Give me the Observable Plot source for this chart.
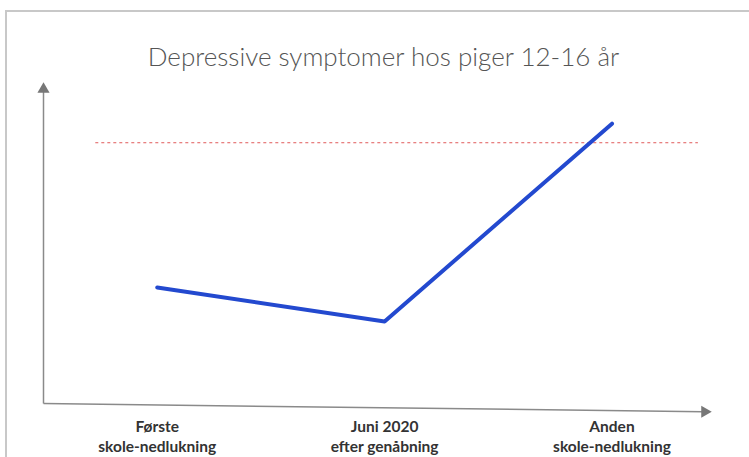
<!DOCTYPE html>
<html>
<head>
<meta charset="utf-8">
<script src="https://cdn.jsdelivr.net/npm/d3@7"></script>
<script src="https://cdn.jsdelivr.net/npm/@observablehq/plot@0.6"></script>
<style>
  html, body { margin: 0; padding: 0; background: #fff; }
  #wrap { position: relative; width: 749px; height: 457px; overflow: hidden; }
  #border { position: absolute; left: 5px; top: 10px; right: -10px; bottom: -10px;
            border-top: 2px solid #c8c8c8; border-left: 2px solid #c8c8c8; }
  #chart { position: absolute; left: 0; top: 0; }
</style>
</head>
<body>
<div id="wrap"><div id="border"></div><div id="chart"></div></div>
<script>
// Data
const title = "Depressive symptomer hos piger 12-16 år";
const categories = [
  "Første\nskole-nedlukning",
  "Juni 2020\nefter genåbning",
  "Anden\nskole-nedlukning"
];
const values = [36.5, 25.8, 88];
const referenceLevel = 82;

const data = categories.map((c, i) => ({i, label: c, value: values[i]}));

const xDomain = [-0.5, 2.42];
const yDomain = [0, 100];

const plot = Plot.plot({
  width: 749,
  height: 457,
  marginLeft: 43,
  marginRight: 42,
  marginTop: 85,
  marginBottom: 54,
  style: {fontFamily: "Lato, sans-serif", fontSize: "15px", background: "transparent"},
  x: {domain: xDomain, axis: null},
  y: {domain: yDomain, axis: null},
  marks: [
    // title
    Plot.text([title], {frameAnchor: "top", dy: -38, dx: 8, fontSize: 26, fill: "#555", fontWeight: 300}),
    // x axis labels
    Plot.axisX({ticks: d3.range(categories.length), tickFormat: i => categories[i], tickSize: 0, tickPadding: 14,
      fontSize: 15.5, fontWeight: "bold", fill: "#333", lineHeight: 1.3, label: null}),
    // y axis line with arrow
    Plot.link([0], {x1: () => xDomain[0], x2: () => xDomain[0], y1: () => yDomain[0], y2: () => yDomain[1] - 2, stroke: "#8a8a8a", strokeWidth: 1.5}),
    Plot.dot([0], {x: () => xDomain[0], y: () => yDomain[1] - 1.2, symbol: "triangle", r: 4.5, fill: "#777", stroke: "none"}),
    // x axis line with arrow (slightly tilted like the photo)
    Plot.link([0], {x1: () => xDomain[0], x2: () => xDomain[1] - 0.02, y1: () => yDomain[0], y2: () => yDomain[0] - 2.6, stroke: "#8a8a8a", strokeWidth: 1.5}),
    Plot.dot([0], {x: () => xDomain[1] - 0.012, y: () => yDomain[0] - 2.6, symbol: "triangle", rotate: 90, r: 4.5, fill: "#777", stroke: "none"}),
    // reference dashed line
    Plot.ruleY([referenceLevel], {x1: -0.27, x2: 2.38, stroke: "#e05a5a", strokeWidth: 1, strokeDasharray: "3,3"}),
    // series line
    Plot.line(data, {x: "i", y: "value", stroke: "#2349cf", strokeWidth: 4, strokeLinecap: "round", strokeLinejoin: "round"})
  ]
});
document.getElementById("chart").appendChild(plot);
</script>
</body>
</html>
